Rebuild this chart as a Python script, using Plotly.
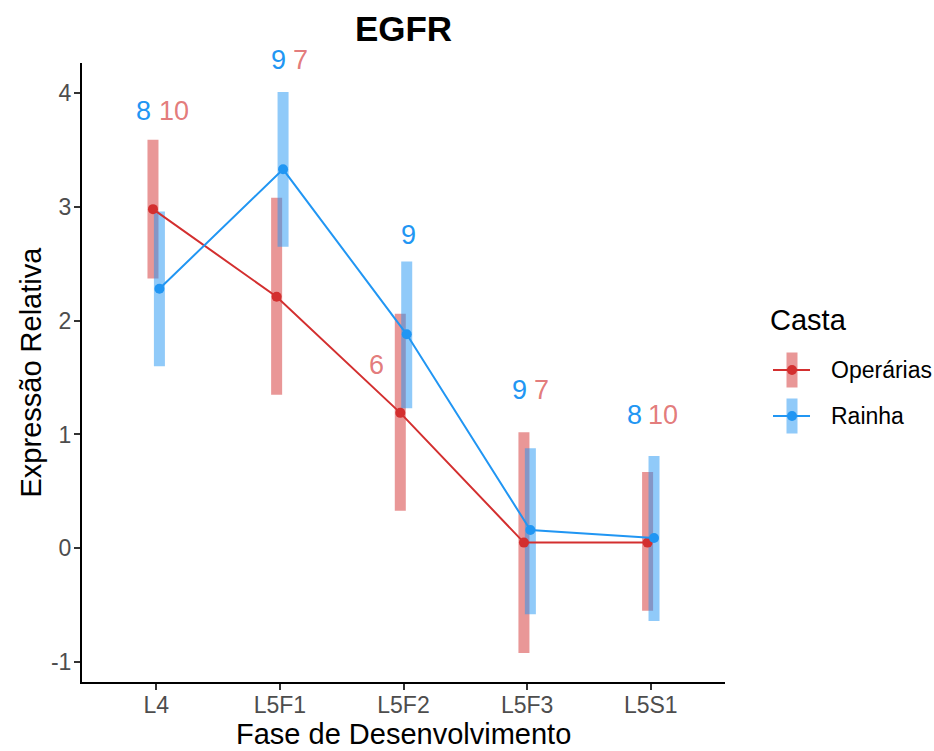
import plotly.graph_objects as go

# ---- data ----
categories = ["L4", "L5F1", "L5F2", "L5F3", "L5S1"]
op_mean = [2.98, 2.21, 1.19, 0.05, 0.05]
op_upper = [3.59, 3.08, 2.06, 1.02, 0.67]
op_lower = [2.37, 1.35, 0.33, -0.92, -0.55]
ra_mean = [2.28, 3.33, 1.88, 0.16, 0.09]
ra_upper = [2.96, 4.01, 2.52, 0.88, 0.81]
ra_lower = [1.60, 2.65, 1.23, -0.58, -0.64]
op_n = [10, 7, 6, 7, 10]
ra_n = [8, 9, 9, 9, 8]
op_label_y = [3.84, 4.29, 1.61, 1.39, 1.17]
ra_label_y = [3.84, 4.29, 2.75, 1.39, 1.17]
y_ticks = [-1, 0, 1, 2, 3, 4]

# ---- styling / layout helpers ----
RED = "#D32F2F"
BLUE = "#2196F3"
RED_A = "rgba(211,47,47,0.5)"
BLUE_A = "rgba(33,150,243,0.5)"
RED_TXT = "rgba(211,47,47,0.65)"
FONT = "Liberation Sans, Arial, sans-serif"
DODGE = 0.026
op_label_dx = [0.148, 0.163, -0.216, 0.120, 0.100]
ra_label_dx = [-0.103, -0.011, 0.043, -0.058, -0.135]
X_RANGE = [-0.6, 4.6]
Y_RANGE = [-1.175, 4.264]

idx = list(range(len(categories)))
op_x = [i - DODGE for i in idx]
ra_x = [i + DODGE for i in idx]

fig = go.Figure()

# error bars (drawn first)
for xs, m, up, lo, col in [(op_x, op_mean, op_upper, op_lower, RED_A),
                           (ra_x, ra_mean, ra_upper, ra_lower, BLUE_A)]:
    fig.add_trace(go.Scatter(
        x=xs, y=m, mode="markers",
        marker=dict(size=1, opacity=0),
        error_y=dict(type="data", symmetric=False,
                     array=[u - v for u, v in zip(up, m)],
                     arrayminus=[v - l for v, l in zip(m, lo)],
                     color=col, thickness=11, width=0),
        showlegend=False, hoverinfo="skip"))

# lines + points
fig.add_trace(go.Scatter(x=op_x, y=op_mean, mode="lines+markers", name="Operárias",
                         line=dict(color=RED, width=2), marker=dict(color=RED, size=10),
                         showlegend=False))
fig.add_trace(go.Scatter(x=ra_x, y=ra_mean, mode="lines+markers", name="Rainha",
                         line=dict(color=BLUE, width=2), marker=dict(color=BLUE, size=10),
                         showlegend=False))

L, R, T, B = 82, 209, 63, 69
W, H = 934, 751
PW, PH = W - L - R, H - T - B


def px(xp):
    return (xp - L) / PW


def py(yp):
    return (H - B - yp) / PH


def dx2paper(v):
    return (v - X_RANGE[0]) / (X_RANGE[1] - X_RANGE[0])


def dy2paper(v):
    return (v - Y_RANGE[0]) / (Y_RANGE[1] - Y_RANGE[0])


shapes = []
annotations = []

# count labels (mapped through the axis ranges so they may sit above the panel)
for ns, ys, dxs, col in [(ra_n, ra_label_y, ra_label_dx, BLUE), (op_n, op_label_y, op_label_dx, RED_TXT)]:
    for i, n, yv, d in zip(idx, ns, ys, dxs):
        annotations.append(dict(xref="paper", yref="paper", x=dx2paper(i + d), y=dy2paper(yv),
                                xanchor="center", yanchor="middle",
                                text=str(n), showarrow=False,
                                font=dict(size=27, color=col, family=FONT)))

# manual legend
legend_items = [("Operárias", RED, RED_A, 370), ("Rainha", BLUE, BLUE_A, 416)]
kx = px(792)
for name, col, cola, yc in legend_items:
    ky = py(yc)
    shapes.append(dict(type="rect", xref="paper", yref="paper", xsizemode="pixel", ysizemode="pixel",
                       xanchor=kx, yanchor=ky, x0=-5.5, x1=5.5, y0=-17.5, y1=17.5,
                       fillcolor=cola, line=dict(width=0)))
    shapes.append(dict(type="line", xref="paper", yref="paper", xsizemode="pixel", ysizemode="pixel",
                       xanchor=kx, yanchor=ky, x0=-19, x1=18, y0=0, y1=0,
                       line=dict(color=col, width=2)))
    shapes.append(dict(type="circle", xref="paper", yref="paper", xsizemode="pixel", ysizemode="pixel",
                       xanchor=kx, yanchor=ky, x0=-5, x1=5, y0=-5, y1=5,
                       fillcolor=col, line=dict(width=0)))
    annotations.append(dict(xref="paper", yref="paper", x=px(829), y=ky, xanchor="left", yanchor="middle",
                            text=name, showarrow=False, font=dict(size=23, color="black", family=FONT)))
annotations.append(dict(xref="paper", yref="paper", x=px(768), y=py(320), xanchor="left", yanchor="middle",
                        text="Casta", showarrow=False, font=dict(size=29, color="black", family=FONT)))

# axis titles
annotations.append(dict(xref="paper", yref="paper", x=0.5, y=py(734), xanchor="center", yanchor="middle",
                        text="Fase de Desenvolvimento", showarrow=False,
                        font=dict(size=29, color="black", family=FONT)))
annotations.append(dict(xref="paper", yref="paper", x=px(30), y=0.5, xanchor="center", yanchor="middle",
                        text="Expressão Relativa", textangle=-90, showarrow=False,
                        font=dict(size=29, color="black", family=FONT)))

fig.update_layout(
    width=W, height=H,
    margin=dict(l=L, r=R, t=T, b=B, autoexpand=False),
    paper_bgcolor="white", plot_bgcolor="white",
    font=dict(family=FONT, color="black"),
    title=dict(text="<b>EGFR</b>", x=(L + PW / 2) / W, xanchor="center",
               y=1 - 29 / H, yanchor="middle", yref="container",
               font=dict(size=35, color="black", family=FONT)),
    shapes=shapes, annotations=annotations,
    showlegend=False,
)
fig.update_xaxes(range=X_RANGE, tickvals=idx, ticktext=categories, automargin=False,
                 showline=True, linecolor="black", linewidth=2, showgrid=False, zeroline=False,
                 ticks="outside", ticklen=6, tickwidth=1.5, tickcolor="#333333",
                 ticklabelstandoff=-5,
                 tickfont=dict(size=23, color="#4D4D4D", family=FONT))
fig.update_yaxes(range=Y_RANGE, tickvals=y_ticks, ticktext=[str(v) for v in y_ticks],
                 automargin=False,
                 showline=True, linecolor="black", linewidth=2, showgrid=False, zeroline=False,
                 ticks="outside", ticklen=6, tickwidth=1.5, tickcolor="#333333",
                 ticklabelstandoff=-2,
                 tickfont=dict(size=23, color="#4D4D4D", family=FONT))

fig.write_html("out.html")
